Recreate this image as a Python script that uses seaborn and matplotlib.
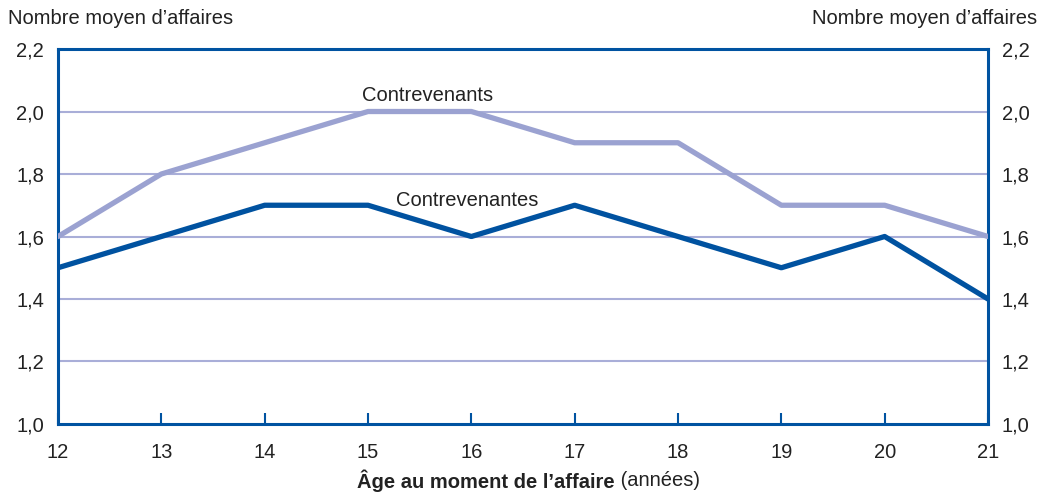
import pandas as pd
import matplotlib.pyplot as plt
import matplotlib.ticker as mticker
import seaborn as sns

ages = [12, 13, 14, 15, 16, 17, 18, 19, 20, 21]
contrevenants = [1.6, 1.8, 1.9, 2.0, 2.0, 1.9, 1.9, 1.7, 1.7, 1.6]
contrevenantes = [1.5, 1.6, 1.7, 1.7, 1.6, 1.7, 1.6, 1.5, 1.6, 1.4]
y_ticks = [1.0, 1.2, 1.4, 1.6, 1.8, 2.0, 2.2]

sns.set_theme(style='white')
plt.rcParams['font.family'] = ['Liberation Sans', 'DejaVu Sans']

df = pd.DataFrame({'age': ages * 2,
                   'valeur': contrevenants + contrevenantes,
                   'groupe': ['Contrevenants'] * 10 + ['Contrevenantes'] * 10})

frame_col = '#0053A1'
grid_col = '#A9AED8'
light_col = '#9BA2D1'
dark_col = '#0052A0'
txt_col = '#222222'

fig = plt.figure(figsize=(10.4, 4.98), dpi=100)
ax = fig.add_axes([0.0558, 0.1486, 0.8942, 0.753])

for y in y_ticks[1:-1]:
    ax.axhline(y, color=grid_col, lw=1.5, zorder=1)

sns.lineplot(data=df, x='age', y='valeur', hue='groupe',
             palette={'Contrevenants': light_col, 'Contrevenantes': dark_col},
             linewidth=3.8, legend=False, ax=ax, zorder=3)

ax.set_xlim(12, 21)
ax.set_ylim(1.0, 2.2)
ax.set_xticks(ages)
ax.set_yticks(y_ticks)
fmt = mticker.FuncFormatter(lambda v, p: f'{v:.1f}'.replace('.', ','))
ax.yaxis.set_major_formatter(fmt)
ax.tick_params(axis='x', bottom=True, direction='in', length=8, width=1.5, color=frame_col,
               labelsize=14.5, pad=14, labelcolor=txt_col)
ax.tick_params(axis='y', left=False, length=0, labelsize=14.5, pad=10, labelcolor=txt_col)
ax.set_xlabel('')
ax.set_ylabel('')
for s in ax.spines.values():
    s.set_color(frame_col)
    s.set_linewidth(2.2)

ax2 = ax.twinx()
ax2.set_ylim(1.0, 2.2)
ax2.set_yticks(y_ticks)
ax2.yaxis.set_major_formatter(fmt)
ax2.tick_params(axis='y', right=False, length=0, labelsize=14.5, pad=10, labelcolor=txt_col)
for s in ax2.spines.values():
    s.set_visible(False)

ax.text(15.58, 2.05, 'Contrevenants', ha='center', va='center', fontsize=14.5, color=txt_col, zorder=5)
ax.text(15.96, 1.714, 'Contrevenantes', ha='center', va='center', fontsize=14.5, color=txt_col, zorder=5)

fig.text(0.008, 0.962, 'Nombre moyen d\u2019affaires', ha='left', va='center', fontsize=14.5, color=txt_col)
fig.text(0.997, 0.962, 'Nombre moyen d\u2019affaires', ha='right', va='center', fontsize=14.5, color=txt_col)

# titre de l'axe x : partie grasse + partie normale, centrés ensemble
t1 = fig.text(0, 0.035, 'Âge au moment de l\u2019affaire', ha='left', va='center',
              fontsize=14.5, fontweight='bold', color=txt_col)
t2 = fig.text(0, 0.035, ' (années)', ha='left', va='center', fontsize=14.5, color=txt_col)
r = fig.canvas.get_renderer()
w1 = t1.get_window_extent(r).width / fig.bbox.width
w2 = t2.get_window_extent(r).width / fig.bbox.width
x0 = 0.508 - (w1 + w2) / 2
t1.set_x(x0)
t2.set_x(x0 + w1)

fig.savefig('out.png', dpi=100)
